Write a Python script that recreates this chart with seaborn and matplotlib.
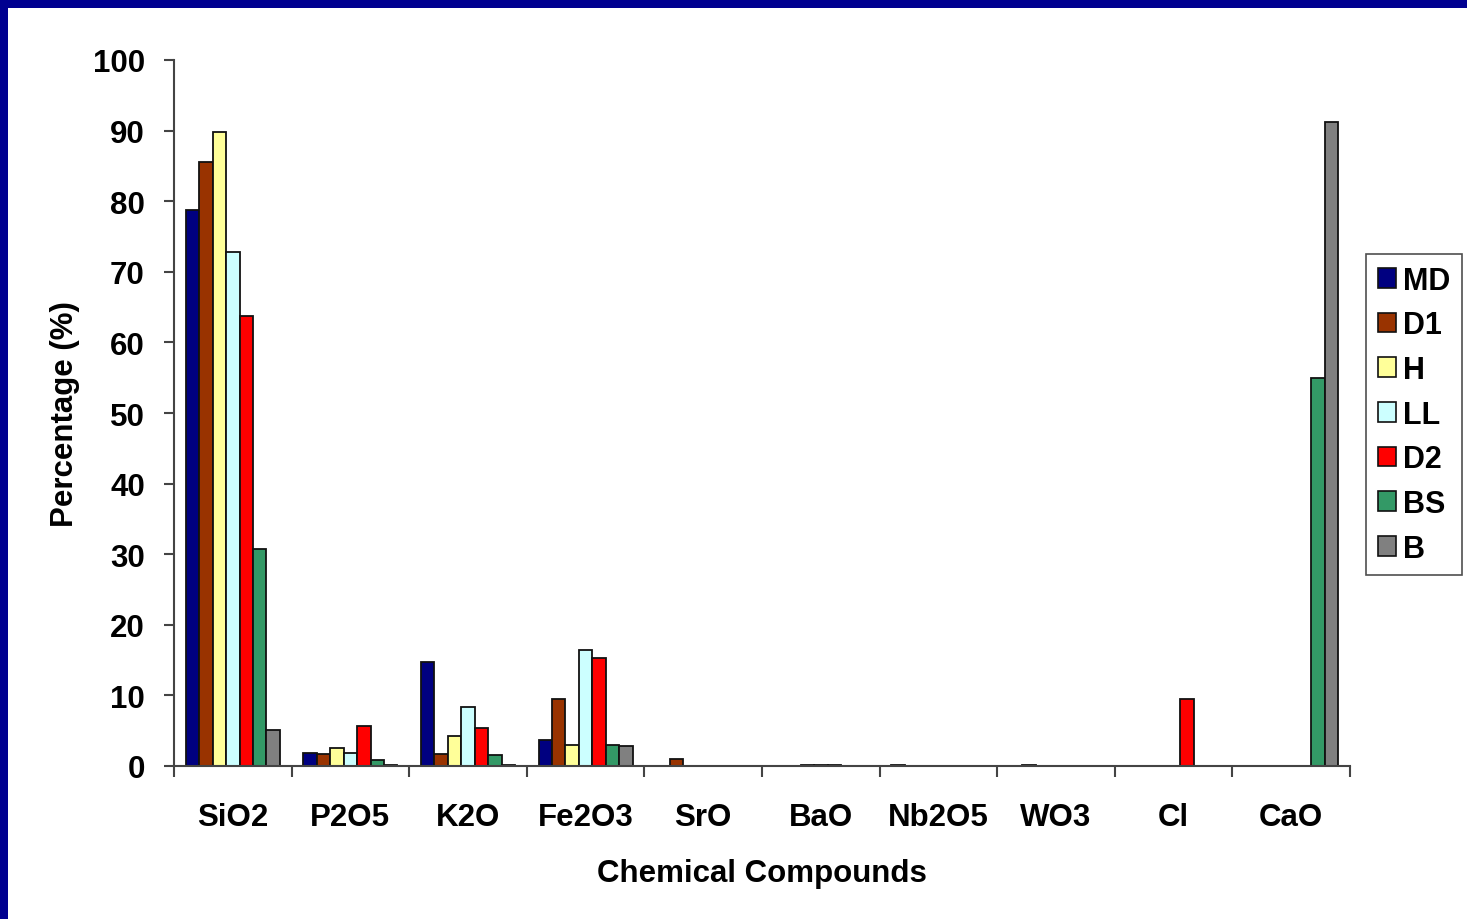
import matplotlib
matplotlib.use("Agg")
import matplotlib.pyplot as plt
import seaborn as sns
import pandas as pd
from matplotlib.patches import Rectangle, Patch

compounds = ["SiO2", "P2O5", "K2O", "Fe2O3", "SrO", "BaO", "Nb2O5", "WO3", "Cl", "CaO"]
series = ["MD", "D1", "H", "LL", "D2", "BS", "B"]

MD = [78.8, 1.9, 14.8, 3.7, 0.0, 0.0, 0.15, 0.0, 0.0, 0.0]
D1 = [85.6, 1.65, 1.65, 9.45, 1.05, 0.0, 0.0, 0.15, 0.0, 0.0]
H = [89.8, 2.6, 4.3, 3.0, 0.0, 0.15, 0.0, 0.0, 0.0, 0.0]
LL = [72.8, 1.8, 8.4, 16.5, 0.0, 0.15, 0.0, 0.0, 0.0, 0.0]
D2 = [63.7, 5.6, 5.4, 15.25, 0.0, 0.15, 0.0, 0.0, 9.5, 0.0]
BS = [30.7, 0.8, 1.5, 3.0, 0.0, 0.0, 0.0, 0.0, 0.0, 55.0]
B = [5.1, 0.2, 0.2, 2.8, 0.0, 0.0, 0.0, 0.0, 0.0, 91.2]

colors = ["#000080", "#993300", "#FFFF99", "#CCFFFF", "#FF0000", "#339966", "#808080"]

values = [MD, D1, H, LL, D2, BS, B]
rows = []
for s, vals in zip(series, values):
    for c, v in zip(compounds, vals):
        rows.append({"Compound": c, "Series": s, "Value": v})
df = pd.DataFrame(rows)

sns.set_theme(style="white")
plt.rcParams["font.family"] = ["Liberation Sans", "DejaVu Sans"]
plt.rcParams["font.weight"] = "bold"
plt.rcParams["text.color"] = "black"
plt.rcParams["axes.labelcolor"] = "black"
plt.rcParams["xtick.color"] = "black"
plt.rcParams["ytick.color"] = "black"

FS = 22.5

fig = plt.figure(figsize=(14.67, 9.2), dpi=100)
fig.patch.set_facecolor("white")
ax = fig.add_axes([174 / 1467, 1 - 767 / 920, (1350 - 174) / 1467, (767 - 61) / 920])

sns.barplot(data=df, x="Compound", y="Value", hue="Series", order=compounds,
            hue_order=series, palette=colors, saturation=1, width=0.8,
            edgecolor="#111111", linewidth=1.3, ax=ax, legend=False)

ax.set_ylim(0, 100)
ax.set_xlim(-0.5, len(compounds) - 0.5)
ax.set_yticks(range(0, 101, 10))
ax.set_yticklabels([str(v) for v in range(0, 101, 10)], fontsize=FS, fontweight="bold")

# boundary ticks (major, no labels) and category labels (minor, no tick marks)
ax.set_xticks([i - 0.5 for i in range(len(compounds) + 1)])
ax.set_xticklabels([""] * (len(compounds) + 1))
ax.set_xticks(list(range(len(compounds))), minor=True)
ax.set_xticklabels(compounds, minor=True, fontsize=FS, fontweight="bold")
ax.tick_params(axis="x", which="minor", bottom=True, length=0, pad=26, labelcolor="black")
ax.tick_params(axis="x", which="major", bottom=True, length=8, width=1.5,
               color="#444444", direction="out")
ax.tick_params(axis="y", which="major", left=True, length=7, width=1.5,
               color="#444444", direction="out", pad=14, labelcolor="black")

for side in ["top", "right"]:
    ax.spines[side].set_visible(False)
for side in ["left", "bottom"]:
    ax.spines[side].set_color("#444444")
    ax.spines[side].set_linewidth(1.5)

ax.set_xlabel("Chemical Compounds", fontsize=FS, fontweight="bold", labelpad=19, color="black")
ax.set_ylabel("Percentage (%)", fontsize=FS, fontweight="bold", labelpad=9, color="black")

handles = [Patch(facecolor=c, edgecolor="#111111", linewidth=1.2) for c in colors]
leg = fig.legend(handles, series, loc="upper left",
                 bbox_to_anchor=(1366 / 1467, 1 - 255 / 920),
                 prop={"size": 22, "weight": "bold"}, frameon=True, fancybox=False,
                 handlelength=0.6, handleheight=0.6, handletextpad=0.22,
                 labelspacing=0.48, borderpad=0.38, borderaxespad=0)
leg.get_frame().set_edgecolor("#222222")
leg.get_frame().set_linewidth(1.2)
for t in leg.get_texts():
    t.set_color("black")

# slide border
fig.patches.append(Rectangle((0, 1 - 9 / 920), 1, 9 / 920, transform=fig.transFigure,
                             facecolor="#000090", edgecolor="none", zorder=10))
fig.patches.append(Rectangle((0, 0), 8 / 1467, 1, transform=fig.transFigure,
                             facecolor="#000090", edgecolor="none", zorder=10))

fig.savefig("out.png", dpi=100)
